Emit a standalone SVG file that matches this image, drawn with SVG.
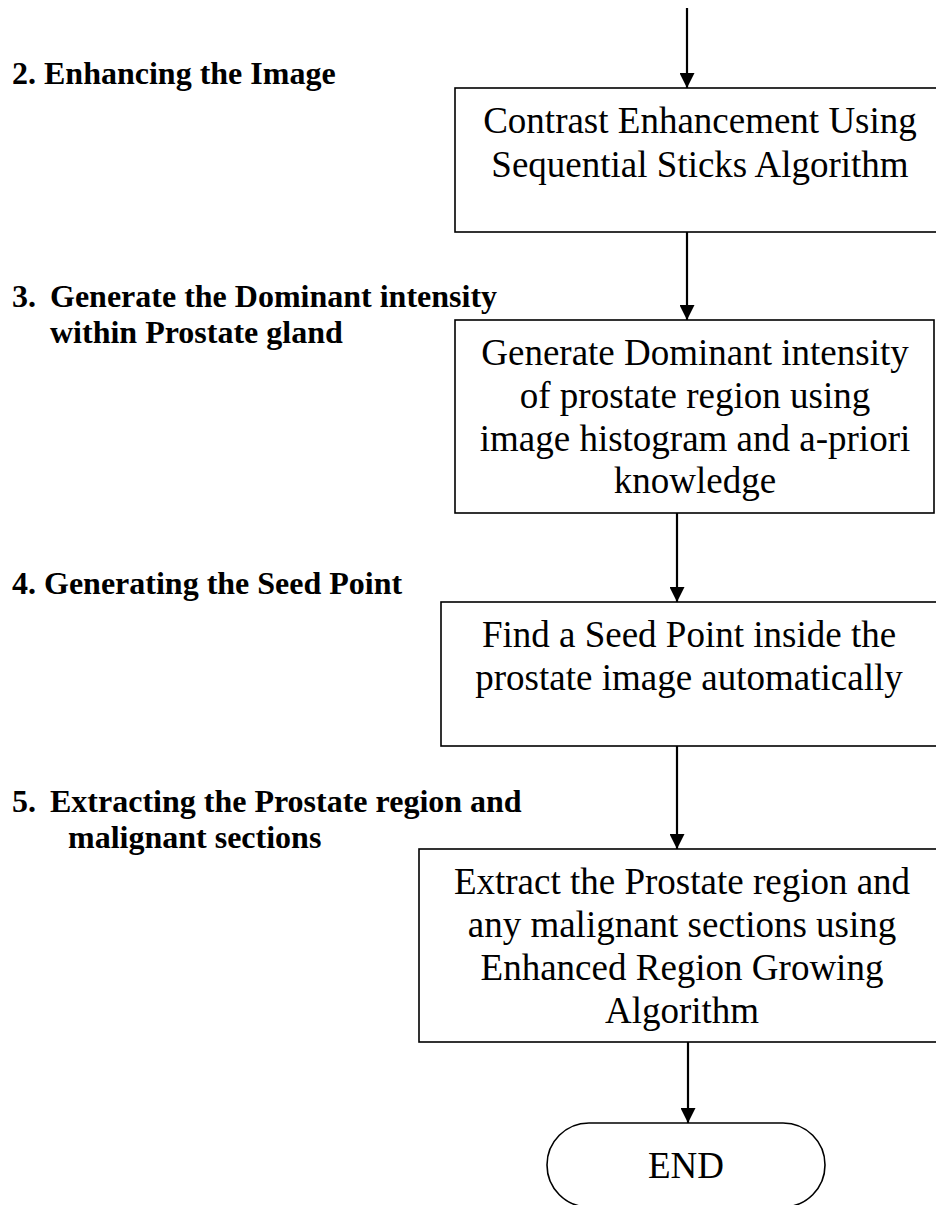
<svg xmlns="http://www.w3.org/2000/svg" width="936" height="1205" viewBox="0 0 936 1205">
  <style>
    .box { fill: #fff; stroke: #000; stroke-width: 1.6; }
    .boxtext { font-family: "Liberation Serif", "Times New Roman", serif; font-size: 37px; fill: #000; text-anchor: middle; }
    .label { font-family: "Liberation Serif", "Times New Roman", serif; font-size: 32px; font-weight: bold; fill: #000; }
    .conn { stroke: #000; stroke-width: 2.2; fill: none; marker-end: url(#arrow); }
  </style>
  <defs>
    <marker id="arrow" viewBox="0 0 16 16" markerUnits="userSpaceOnUse" markerWidth="16" markerHeight="15" refX="16" refY="8" orient="auto">
      <path d="M0,0 L16,8 L0,16 z" fill="#000"/>
    </marker>
  </defs>
  <rect width="936" height="1205" fill="#fff"/>

  <!-- step labels on the left -->
  <g id="label-2">
    <text class="label" x="12" y="84">2. Enhancing the Image</text>
  </g>
  <g id="label-3">
    <text class="label" y="307"><tspan x="12">3.</tspan><tspan x="50">Generate the Dominant intensity</tspan></text>
    <text class="label" x="50" y="343">within Prostate gland</text>
  </g>
  <g id="label-4">
    <text class="label" x="12" y="594">4. Generating the Seed Point</text>
  </g>
  <g id="label-5">
    <text class="label" y="812"><tspan x="12">5.</tspan><tspan x="50">Extracting the Prostate region and</tspan></text>
    <text class="label" x="68" y="848">malignant sections</text>
  </g>

  <!-- connectors -->
  <g id="connectors">
    <line class="conn" x1="687" y1="8" x2="687" y2="88"/>
    <line class="conn" x1="687" y1="232" x2="687" y2="320"/>
    <line class="conn" x1="677" y1="513" x2="677" y2="602"/>
    <line class="conn" x1="677" y1="746" x2="677" y2="849"/>
    <line class="conn" x1="688" y1="1042" x2="688" y2="1123"/>
  </g>

  <!-- process boxes -->
  <g id="contrast-enhancement">
    <rect class="box" x="455" y="88" width="490" height="144"/>
    <text class="boxtext" x="700" y="133">Contrast Enhancement Using</text>
    <text class="boxtext" x="700" y="177">Sequential Sticks Algorithm</text>
  </g>
  <g id="dominant-intensity">
    <rect class="box" x="455" y="320" width="479" height="193"/>
    <text class="boxtext" x="695" y="365">Generate Dominant intensity</text>
    <text class="boxtext" x="695" y="408">of prostate region using</text>
    <text class="boxtext" x="695" y="451">image histogram and a-priori</text>
    <text class="boxtext" x="695" y="493">knowledge</text>
  </g>
  <g id="seed-point">
    <rect class="box" x="441" y="602" width="505" height="144"/>
    <text class="boxtext" x="689" y="647">Find a Seed Point inside the</text>
    <text class="boxtext" x="689" y="690">prostate image automatically</text>
  </g>
  <g id="region-growing">
    <rect class="box" x="419" y="849" width="527" height="193"/>
    <text class="boxtext" x="682" y="894">Extract the Prostate region and</text>
    <text class="boxtext" x="682" y="937">any malignant sections using</text>
    <text class="boxtext" x="682" y="980">Enhanced Region Growing</text>
    <text class="boxtext" x="682" y="1023">Algorithm</text>
  </g>

  <!-- terminator -->
  <g id="end">
    <rect class="box" x="547" y="1123" width="278" height="84" rx="42" ry="42"/>
    <text class="boxtext" x="686" y="1178">END</text>
  </g>
</svg>
